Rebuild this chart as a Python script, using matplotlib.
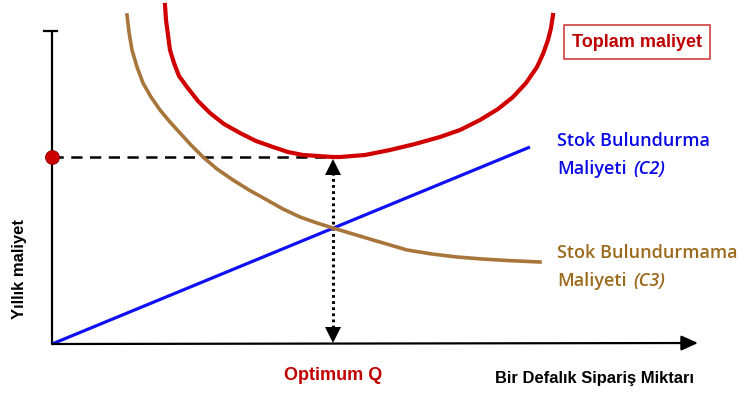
import matplotlib
matplotlib.use('Agg')
import matplotlib.pyplot as plt
from matplotlib import font_manager

# Curves (origin where the axes meet, units ~ pixels).
holding_q = [0, 478]
holding_cost = [0, 197]

shortage_q = [75, 77, 80, 85, 91, 99, 108, 118, 128, 139, 151, 165, 181, 197, 215, 231,
              248, 265, 281, 301, 321, 338, 355, 380, 405, 430, 455, 488]
shortage_cost = [329, 312, 294, 277, 261, 247, 234, 222, 211, 199, 187, 175, 164, 154, 144,
                 135, 127, 121, 116, 110, 104, 99, 94, 90, 87, 85, 83.5, 82]

total_q = [113, 114, 116, 118, 122, 127, 135, 146, 158, 172, 188, 204, 221, 236, 251, 266,
           281, 288, 313, 338, 363, 388, 408, 428, 446, 461, 474, 485, 491, 496, 499, 501]
total_cost = [339, 324, 309, 294, 281, 268, 257, 243, 231, 220, 211, 203, 197, 192, 189,
              188, 187, 187, 189, 194, 200, 207, 214, 224, 235, 247, 261, 277, 290, 304,
              316, 329]

optimum_q = 281
optimum_cost = 187

installed = {f.name for f in font_manager.fontManager.ttflist}
narrow = 'Liberation Sans Narrow' if 'Liberation Sans Narrow' in installed else 'Liberation Sans'
soft = 'Open Sans'

fig = plt.figure(figsize=(7.47, 3.94), dpi=100)
ax = fig.add_axes([0, 0, 1, 1])
ax.set_xlim(-52, 695)
ax.set_ylim(-50, 344)
ax.axis('off')

# axes
ax.plot([0, 0], [0, 313], c='black', lw=1.6, solid_capstyle='butt')
ax.plot([-8, 5], [313, 313], c='black', lw=1.6)
ax.annotate('', xy=(646, 1), xytext=(0, 0),
            arrowprops=dict(arrowstyle='-|>,head_length=1.0,head_width=0.45',
                            color='black', lw=1.6, shrinkA=0, shrinkB=0))

# helper lines
ax.plot([0, optimum_q + 7], [optimum_cost, optimum_cost], c='black', lw=1.8,
        ls=(0, (4.5, 3)))
ax.plot([optimum_q, optimum_q], [10, optimum_cost - 12], c='black', lw=2.2,
        ls=(0, (0.9, 1.1)))
ax.plot([optimum_q], [optimum_cost - 10], marker='^', ms=11, c='black', mew=0)
ax.plot([optimum_q], [9], marker='v', ms=11, c='black', mew=0)
ax.plot([0], [optimum_cost], marker='o', ms=10, c='#cc0000', mec='#8a0000', mew=0.6,
        zorder=5)

# cost curves
ax.plot(holding_q, holding_cost, c='#1010f5', lw=2.3, solid_capstyle='butt')
ax.plot(shortage_q, shortage_cost, c='#a8753a', lw=2.6)
ax.plot(total_q, total_cost, c='#d00000', lw=3.0)

# labels
ax.text(585, 302, 'Toplam maliyet', color='#c00000', fontsize=13, fontweight='bold',
        family=narrow, ha='center', va='center',
        bbox=dict(boxstyle='square,pad=0.45', fc='white', ec='#d04040', lw=1.2))


def two_part(x, y, first, second, color):
    t = ax.text(x, y, first, color=color, fontsize=13, fontweight='semibold',
                family=soft, va='center')
    ax.annotate(second, xy=(1, 0.5), xycoords=t, xytext=(4.5, 0),
                textcoords='offset points', color=color, fontsize=13,
                fontweight='semibold', style='italic', family=soft, va='center')


ax.text(505, 203, 'Stok Bulundurma', color='#0a0ae6', fontsize=13,
        fontweight='semibold', family=soft, va='center')
two_part(505, 175, 'Maliyeti', '(C2)', '#0a0ae6')
ax.text(505, 91, 'Stok Bulundurmama', color='#9c6a1c', fontsize=13,
        fontweight='semibold', family=soft, va='center')
two_part(505, 63, 'Maliyeti', '(C3)', '#9c6a1c')

ax.text(optimum_q, -31, 'Optimum Q', color='#c00000', fontsize=13, fontweight='bold',
        family=narrow, ha='center', va='center')
ax.text(642, -34, 'Bir Defalık Sipariş Miktarı', color='black', fontsize=11.9,
        fontweight='bold', family=narrow, ha='right', va='center')
ax.text(-32, 75, 'Yıllık maliyet', color='black', fontsize=12, fontweight='bold',
        family=narrow, rotation=90, ha='center', va='center')

fig.savefig('out.png', dpi=100)
